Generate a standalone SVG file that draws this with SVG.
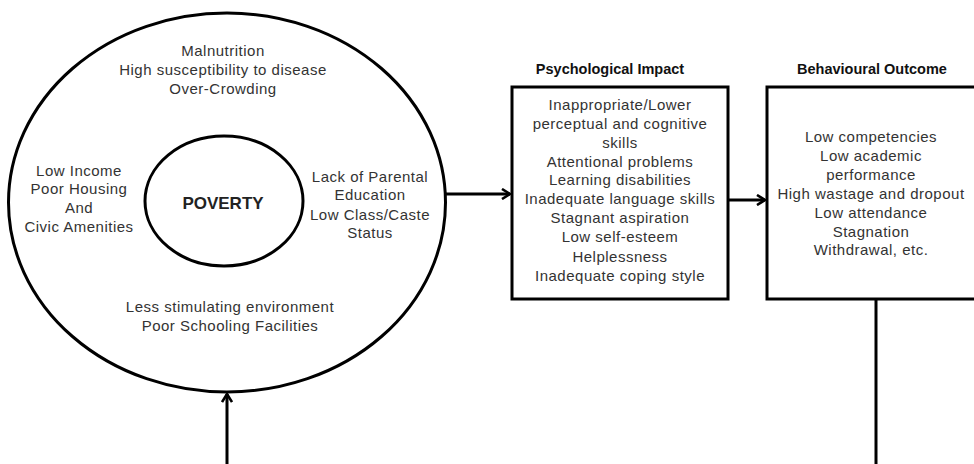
<svg xmlns="http://www.w3.org/2000/svg" width="974" height="464" viewBox="0 0 974 464">
<style>
.t{font-family:"Liberation Sans",Arial,sans-serif;font-size:15px;letter-spacing:0.5px;fill:#333;text-anchor:middle}
.h{font-family:"Liberation Sans",Arial,sans-serif;font-size:14.5px;font-weight:bold;fill:#111;text-anchor:middle}
.s{fill:#fff;stroke:#000;stroke-width:3}
.c{fill:none;stroke:#000;stroke-width:3}
</style>
<defs>
<marker id="a" markerWidth="12" markerHeight="12" refX="10" refY="6" orient="auto" markerUnits="userSpaceOnUse">
<polyline points="2,1 10,6 2,11" fill="none" stroke="#000" stroke-width="2.6"/>
</marker>
</defs>
<rect width="974" height="464" fill="#fff"/>
<g id="poverty-context">
<ellipse class="s" cx="227" cy="202.5" rx="218.5" ry="189.5"/>
<text class="t" x="223" y="56">Malnutrition</text>
<text class="t" x="223" y="75">High susceptibility to disease</text>
<text class="t" x="223" y="94">Over-Crowding</text>
<text class="t" x="79" y="176">Low Income</text>
<text class="t" x="79" y="194">Poor Housing</text>
<text class="t" x="79" y="213">And</text>
<text class="t" x="79" y="232">Civic Amenities</text>
<text class="t" x="370" y="182">Lack of Parental</text>
<text class="t" x="370" y="200">Education</text>
<text class="t" x="370" y="220">Low Class/Caste</text>
<text class="t" x="370" y="238">Status</text>
<text class="t" x="230" y="312">Less stimulating environment</text>
<text class="t" x="230" y="331">Poor Schooling Facilities</text>
</g>
<g id="poverty">
<ellipse class="s" cx="224" cy="201" rx="79" ry="65"/>
<text x="223" y="209" font-family="Liberation Sans,Arial,sans-serif" font-size="17" font-weight="bold" fill="#222" text-anchor="middle">POVERTY</text>
</g>
<g id="psychological">
<text class="h" x="610" y="74">Psychological Impact</text>
<rect class="s" x="512" y="87" width="216" height="212"/>
<text class="t" x="620" y="110">Inappropriate/Lower</text>
<text class="t" x="620" y="129">perceptual and cognitive</text>
<text class="t" x="620" y="148">skills</text>
<text class="t" x="620" y="167">Attentional problems</text>
<text class="t" x="620" y="185">Learning disabilities</text>
<text class="t" x="620" y="204">Inadequate language skills</text>
<text class="t" x="620" y="223">Stagnant aspiration</text>
<text class="t" x="620" y="242">Low self-esteem</text>
<text class="t" x="620" y="262">Helplessness</text>
<text class="t" x="620" y="281">Inadequate coping style</text>
</g>
<g id="behavioural">
<text class="h" x="872" y="74">Behavioural Outcome</text>
<rect class="s" x="767" y="87" width="215" height="212"/>
<text class="t" x="871" y="142">Low competencies</text>
<text class="t" x="871" y="161">Low academic</text>
<text class="t" x="871" y="180">performance</text>
<text class="t" x="871" y="199">High wastage and dropout</text>
<text class="t" x="871" y="218">Low attendance</text>
<text class="t" x="871" y="237">Stagnation</text>
<text class="t" x="871" y="255">Withdrawal, etc.</text>
</g>
<g id="connectors">
<line class="c" x1="445" y1="194" x2="510" y2="194" marker-end="url(#a)"/>
<line class="c" x1="728" y1="200" x2="765" y2="200" marker-end="url(#a)"/>
<line class="c" x1="876" y1="299" x2="876" y2="466"/>
<line class="c" x1="227" y1="466" x2="227" y2="394" marker-end="url(#a)"/>
</g>
</svg>
